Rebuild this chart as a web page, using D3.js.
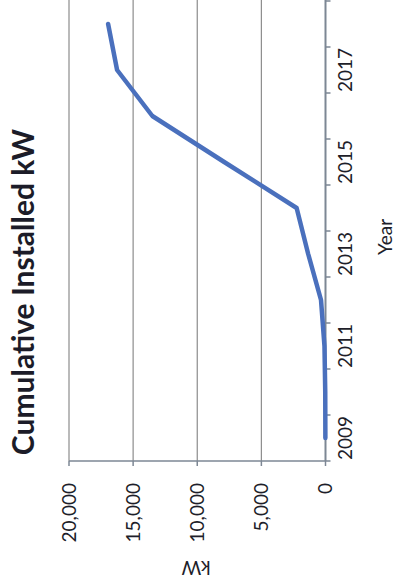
<!DOCTYPE html>
<html>
<head>
<meta charset="utf-8">
<script src="https://cdn.jsdelivr.net/npm/d3@7"></script>
<style>
  body { margin: 0; background: #fff; }
  svg { display: block; }
  text { font-family: Lato, "Open Sans", sans-serif; fill: #222; }
</style>
</head>
<body>
<div id="plot"></div>
<script>
// data
const years = [2009, 2010, 2011, 2012, 2013, 2014, 2015, 2016, 2017, 2018];
const kw = [10, 20, 80, 350, 1350, 2250, 7900, 13500, 16250, 16950];
const yearLabels = [2009, 2011, 2013, 2015, 2017];
const kwTicks = [0, 5000, 10000, 15000, 20000];

// page size; chart is drawn upright then turned a quarter turn left
const pageW = 398, pageH = 586;

const svg = d3.select("#plot")
  .append("svg")
  .attr("width", pageW)
  .attr("height", pageH);

const g = svg.append("g")
  .attr("transform", `translate(0, ${pageH}) rotate(-90)`);

const x = d3.scaleBand()
  .domain(years)
  .range([125, 585])
  .paddingInner(0)
  .paddingOuter(0);

const y = d3.scaleLinear()
  .domain([0, 20000])
  .range([325.5, 69]);

// gridlines
g.selectAll(".grid")
  .data(kwTicks.filter(d => d > 0))
  .enter()
  .append("line")
  .attr("x1", x.range()[0])
  .attr("x2", x.range()[1] + 5)
  .attr("y1", d => y(d))
  .attr("y2", d => y(d))
  .attr("stroke", "#8c8c8c")
  .attr("stroke-width", 1.2);

// value axis
g.append("line")
  .attr("x1", x.range()[0]).attr("x2", x.range()[0])
  .attr("y1", y(20000)).attr("y2", y(0))
  .attr("stroke", "#7d8794").attr("stroke-width", 1.5);

g.selectAll(".ytick")
  .data(kwTicks)
  .enter()
  .append("line")
  .attr("x1", x.range()[0] - 5).attr("x2", x.range()[0])
  .attr("y1", d => y(d)).attr("y2", d => y(d))
  .attr("stroke", "#7d8794").attr("stroke-width", 1.5);

g.selectAll(".ylabel")
  .data(kwTicks)
  .enter()
  .append("text")
  .attr("x", 103)
  .attr("y", d => y(d))
  .attr("dy", "0.36em")
  .attr("text-anchor", "end")
  .style("font-size", "19px")
  .style("fill", "#1e1e2a")
  .text(d => d3.format(",")(d));

// category axis
g.append("line")
  .attr("x1", x.range()[0]).attr("x2", x.range()[1] + 5)
  .attr("y1", y(0)).attr("y2", y(0))
  .attr("stroke", "#7d8794").attr("stroke-width", 2);

g.selectAll(".xtick")
  .data(years.map(d => x(d)).concat([x.range()[1]]))
  .enter()
  .append("line")
  .attr("x1", d => d).attr("x2", d => d)
  .attr("y1", y(0)).attr("y2", y(0) + 5)
  .attr("stroke", "#7d8794").attr("stroke-width", 1.5);

g.selectAll(".xlabel")
  .data(yearLabels)
  .enter()
  .append("text")
  .attr("x", d => x(d) + x.bandwidth() / 2)
  .attr("y", 352)
  .attr("text-anchor", "middle")
  .style("font-size", "19px")
  .style("fill", "#1e1e2a")
  .text(d => d);

// line
const line = d3.line()
  .x((d, i) => x(years[i]) + x.bandwidth() / 2)
  .y(d => y(d));

g.append("path")
  .datum(kw)
  .attr("d", line)
  .attr("fill", "none")
  .attr("stroke", "#4a70bd")
  .attr("stroke-width", 4.5)
  .attr("stroke-linejoin", "round")
  .attr("stroke-linecap", "round");

// titles
g.append("text")
  .attr("x", 294)
  .attr("y", 34)
  .attr("text-anchor", "middle")
  .style("font-size", "30px")
  .style("font-weight", "bold")
  .style("fill", "#1c1c28")
  .text("Cumulative Installed kW");

g.append("text")
  .attr("x", 349)
  .attr("y", 392)
  .attr("text-anchor", "middle")
  .style("font-size", "19px")
  .style("fill", "#1e1e2a")
  .text("Year");

g.append("text")
  .attr("transform", "translate(18, 196) rotate(-90)")
  .attr("dy", "0.36em")
  .attr("text-anchor", "middle")
  .style("font-size", "19px")
  .style("fill", "#1e1e2a")
  .text("kW");
</script>
</body>
</html>
